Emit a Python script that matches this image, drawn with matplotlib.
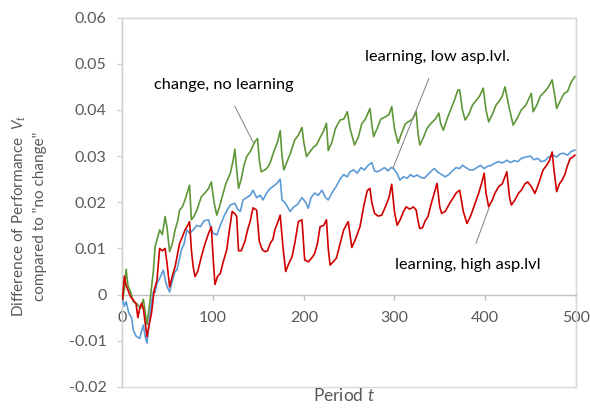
import matplotlib
matplotlib.use("Agg")
import matplotlib.pyplot as plt
from matplotlib.patches import Rectangle

plt.rcParams['font.family'] = ['Lato', 'DejaVu Sans']
plt.rcParams['mathtext.fontset'] = 'custom'
plt.rcParams['mathtext.rm'] = 'Lato'
plt.rcParams['mathtext.it'] = 'Lato:italic'

# ---- data (period, value) ----
green_t = [0, 2, 4, 6, 9, 12, 16, 20, 23, 27, 30, 34, 36, 41, 44, 47, 49, 52, 55, 58,
           61, 63, 66, 69, 72, 74, 76, 79, 82, 85, 87, 91, 95, 98, 101, 104, 107, 110, 114, 119,
           122, 124, 126, 128, 131, 134, 137, 141, 146, 149, 151, 153, 157, 160, 163, 167, 171, 174, 176, 178,
           182, 186, 190, 194, 198, 200, 203, 207, 211, 214, 218, 222, 225, 227, 231, 235, 240, 244, 248, 251,
           256, 260, 264, 268, 273, 275, 277, 281, 285, 290, 294, 297, 300, 304, 308, 312, 316, 320, 324, 326,
           328, 332, 336, 340, 345, 349, 351, 354, 358, 362, 366, 370, 372, 375, 378, 382, 386, 390, 394, 398,
           401, 404, 408, 412, 416, 419, 422, 426, 431, 435, 440, 445, 451, 453, 457, 461, 466, 470, 474, 477,
           479, 483, 487, 491, 495, 499]
green_v = [-0.001, 0.001, 0.0055, 0.002, 0.0005, -0.0015, -0.002, -0.003, -0.001, -0.0065, -0.002, 0.005, 0.0104, 0.014, 0.013, 0.0169, 0.0147, 0.0093, 0.011, 0.014,
           0.016, 0.0183, 0.019, 0.0205, 0.0225, 0.0237, 0.0162, 0.017, 0.0183, 0.02, 0.0212, 0.022, 0.023, 0.0244, 0.02, 0.0172, 0.019, 0.0212, 0.024, 0.0263,
           0.029, 0.0315, 0.027, 0.023, 0.025, 0.028, 0.0299, 0.031, 0.0331, 0.0338, 0.029, 0.0266, 0.027, 0.0275, 0.0286, 0.031, 0.033, 0.0355, 0.030, 0.027,
           0.029, 0.031, 0.0335, 0.0345, 0.0362, 0.033, 0.0299, 0.031, 0.032, 0.0324, 0.034, 0.0355, 0.0371, 0.0312, 0.033, 0.036, 0.0378, 0.038, 0.0396, 0.036,
           0.0324, 0.034, 0.037, 0.038, 0.0403, 0.037, 0.0342, 0.036, 0.038, 0.0385, 0.039, 0.0407, 0.036, 0.0328, 0.035, 0.037, 0.0375, 0.038, 0.0396, 0.035,
           0.0324, 0.034, 0.036, 0.037, 0.038, 0.0393, 0.037, 0.0356, 0.038, 0.040, 0.042, 0.0443, 0.0443, 0.040, 0.0378, 0.039, 0.041, 0.042, 0.043, 0.0447,
           0.040, 0.0374, 0.039, 0.041, 0.042, 0.043, 0.045, 0.041, 0.0367, 0.038, 0.040, 0.041, 0.0436, 0.0396, 0.041, 0.043, 0.044, 0.045, 0.0465, 0.043,
           0.0403, 0.042, 0.0435, 0.044, 0.046, 0.0472]

blue_t = [0, 2, 4, 7, 10, 12, 15, 19, 21, 23, 25, 27, 29, 31, 34, 36, 38, 41, 45, 48,
          50, 52, 55, 58, 60, 63, 65, 68, 71, 74, 78, 82, 86, 90, 95, 97, 100, 104, 108, 112,
          116, 119, 124, 127, 130, 133, 137, 141, 144, 148, 152, 155, 159, 163, 166, 170, 174, 176, 179, 182,
          185, 189, 193, 198, 202, 205, 208, 212, 216, 220, 224, 227, 231, 236, 240, 244, 248, 251, 255, 259,
          263, 267, 271, 275, 278, 281, 285, 289, 293, 296, 299, 303, 306, 310, 314, 318, 321, 325, 329, 333,
          337, 341, 344, 348, 352, 356, 360, 364, 368, 372, 375, 379, 383, 387, 391, 395, 399, 403, 407, 411,
          415, 419, 424, 428, 432, 436, 440, 445, 450, 454, 458, 462, 466, 470, 475, 479, 483, 487, 491, 495,
          499]
blue_v = [-0.001, -0.0025, -0.0015, -0.004, -0.005, -0.0077, -0.009, -0.0095, -0.008, -0.0066, -0.009, -0.0105, -0.007, -0.003, 0.0006, 0.0005, 0.0024, 0.0035, 0.0053, 0.0025,
          0.0014, 0.0006, 0.003, 0.005, 0.0053, 0.008, 0.0097, 0.011, 0.014, 0.0133, 0.014, 0.015, 0.0147, 0.016, 0.0162, 0.0147, 0.0133, 0.0129, 0.015, 0.017,
          0.0185, 0.0194, 0.0198, 0.0185, 0.018, 0.0205, 0.021, 0.0215, 0.0226, 0.021, 0.0215, 0.0205, 0.022, 0.023, 0.0234, 0.024, 0.025, 0.0205, 0.020, 0.019,
          0.018, 0.019, 0.0195, 0.021, 0.020, 0.0187, 0.021, 0.022, 0.0215, 0.0226, 0.021, 0.0205, 0.022, 0.0235, 0.025, 0.026, 0.0255, 0.0266, 0.027, 0.0263,
          0.0275, 0.027, 0.028, 0.0286, 0.0268, 0.0266, 0.027, 0.0275, 0.0268, 0.0275, 0.0273, 0.0262, 0.0248, 0.0255, 0.0252, 0.026, 0.0255, 0.0259, 0.0254, 0.0252,
          0.026, 0.0268, 0.0273, 0.0265, 0.026, 0.0255, 0.026, 0.0268, 0.0275, 0.0273, 0.028, 0.0275, 0.027, 0.027, 0.0275, 0.028, 0.0273, 0.0278, 0.028, 0.0285,
          0.0288, 0.0285, 0.0291, 0.0286, 0.029, 0.0288, 0.0295, 0.0298, 0.030, 0.0292, 0.0295, 0.0288, 0.029, 0.0298, 0.0302, 0.0298, 0.0305, 0.0306, 0.0302, 0.031,
          0.0313]

red_t = [0, 2, 4, 6, 9, 12, 15, 17, 19, 21, 23, 25, 27, 29, 32, 35, 38, 41, 44, 47,
         49, 52, 55, 58, 61, 63, 66, 69, 72, 74, 76, 78, 80, 83, 87, 91, 95, 98, 100, 102,
         105, 108, 111, 115, 118, 121, 124, 126, 128, 131, 135, 138, 141, 144, 148, 151, 154, 157, 160, 163,
         166, 168, 171, 174, 177, 180, 183, 187, 190, 194, 198, 201, 205, 209, 212, 215, 218, 222, 225, 227,
         229, 232, 236, 240, 244, 249, 251, 253, 257, 262, 266, 270, 273, 275, 278, 282, 286, 290, 294, 297,
         300, 303, 307, 310, 313, 317, 321, 324, 326, 328, 331, 334, 337, 341, 344, 347, 350, 352, 356, 361,
         365, 368, 372, 376, 380, 384, 389, 393, 396, 399, 401, 404, 408, 411, 415, 419, 424, 427, 429, 433,
         437, 440, 444, 447, 451, 455, 459, 464, 468, 471, 474, 476, 479, 482, 485, 488, 491, 494, 497, 499]
red_v = [-0.001, 0.004, 0.002, 0.001, -0.0005, -0.0012, -0.002, -0.005, -0.003, -0.0019, -0.003, -0.006, -0.0091, -0.007, -0.004, 0.001, 0.003, 0.010, 0.0095, 0.010,
         0.007, 0.0017, 0.004, 0.006, 0.009, 0.0111, 0.0125, 0.014, 0.015, 0.0158, 0.0097, 0.006, 0.0039, 0.005, 0.0082, 0.011, 0.0133, 0.0147, 0.008, 0.0022,
         0.004, 0.0046, 0.007, 0.0097, 0.014, 0.018, 0.0175, 0.0169, 0.0095, 0.0095, 0.0115, 0.014, 0.016, 0.0188, 0.0183, 0.0115, 0.0098, 0.0093, 0.0095, 0.0111,
         0.012, 0.014, 0.0155, 0.0172, 0.0104, 0.005, 0.0065, 0.0082, 0.011, 0.0158, 0.0162, 0.0075, 0.0071, 0.008, 0.0089, 0.011, 0.0147, 0.015, 0.0162, 0.010,
         0.0064, 0.007, 0.0079, 0.011, 0.014, 0.0158, 0.013, 0.0102, 0.012, 0.0147, 0.019, 0.0225, 0.023, 0.020, 0.0176, 0.017, 0.0172, 0.019, 0.021, 0.0239,
         0.018, 0.015, 0.0165, 0.018, 0.019, 0.0185, 0.019, 0.0183, 0.016, 0.0143, 0.0145, 0.016, 0.0169, 0.020, 0.022, 0.0241, 0.019, 0.0176, 0.018, 0.0198,
         0.021, 0.022, 0.0226, 0.018, 0.0154, 0.017, 0.0198, 0.022, 0.024, 0.0263, 0.022, 0.019, 0.0205, 0.022, 0.0234, 0.024, 0.0266, 0.021, 0.0194, 0.0205,
         0.022, 0.0226, 0.024, 0.0244, 0.0234, 0.0219, 0.024, 0.027, 0.028, 0.029, 0.0309, 0.027, 0.0223, 0.024, 0.0248, 0.026, 0.028, 0.0295, 0.0298, 0.0302]

x_ticks = [0, 100, 200, 300, 400, 500]
y_ticks = [-0.02, -0.01, 0, 0.01, 0.02, 0.03, 0.04, 0.05, 0.06]
y_labels = ['-0.02', '-0.01', '0', '0.01', '0.02', '0.03', '0.04', '0.05', '0.06']

fig = plt.figure(figsize=(5.9, 4.12), dpi=100)
ax = fig.add_axes([0.2076, 0.0607, 0.7682, 0.8968])

ax.plot(green_t, green_v, color='#5f9637', lw=1.2, zorder=3)
ax.plot(blue_t, blue_v, color='#5b9bd5', lw=1.2, zorder=3)
ax.plot(red_t, red_v, color='#d00000', lw=1.2, zorder=3)

ax.set_xlim(0, 500)
ax.set_ylim(-0.02, 0.06)
ax.set_xticks(x_ticks)
ax.set_yticks(y_ticks)
ax.set_yticklabels(y_labels)

grey = '#595959'
ax.spines['bottom'].set_position(('data', 0))
ax.spines['bottom'].set_color('#bfbfbf')
ax.spines['left'].set_color('#d0d0d0')
ax.spines['top'].set_color('#d9d9d9')
ax.spines['right'].set_color('#d9d9d9')
for s in ax.spines.values():
    s.set_linewidth(1.0)
ax.add_patch(Rectangle((0, 0), 1, 1, transform=ax.transAxes, fill=False,
                       edgecolor='#d9d9d9', lw=1.0, clip_on=False, zorder=0))

ax.tick_params(axis='x', direction='out', length=3.5, width=1, color='#bfbfbf',
               pad=8, labelsize=11.5, labelcolor=grey)
ax.tick_params(axis='y', direction='out', length=3.5, width=1, color='#d0d0d0',
               pad=8, labelsize=11.5, labelcolor=grey)

fig.text(0.049, 0.476, 'Difference of Performance  $V_t$\ncompared to "no change"',
         rotation=90, ha='center', va='center', multialignment='center',
         fontsize=11, color=grey, linespacing=1.4)
fig.text(0.583, 0.039, 'Period $t$', ha='center', va='center', fontsize=12.5, color=grey)

# annotations
lc = '#808080'
ax.annotate('change, no learning', xy=(0.4288, 0.6553), xycoords='figure fraction',
            xytext=(0.3797, 0.7937), textcoords='figure fraction', ha='center', va='center',
            fontsize=11.8, color='black',
            arrowprops=dict(arrowstyle='-', color=lc, lw=0.7, shrinkA=9, shrinkB=0))
ax.annotate('learning, low asp.lvl.', xy=(0.6661, 0.5922), xycoords='figure fraction',
            xytext=(0.7415, 0.8617), textcoords='figure fraction', ha='center', va='center',
            fontsize=11.8, color='black',
            arrowprops=dict(arrowstyle='-', color=lc, lw=0.7, shrinkA=9, shrinkB=0))
ax.annotate('learning, high asp.lvl', xy=(0.8288, 0.4951), xycoords='figure fraction',
            xytext=(0.7932, 0.3568), textcoords='figure fraction', ha='center', va='center',
            fontsize=11.8, color='black',
            arrowprops=dict(arrowstyle='-', color=lc, lw=0.7, shrinkA=9, shrinkB=0))

fig.savefig('out.png', dpi=100)
